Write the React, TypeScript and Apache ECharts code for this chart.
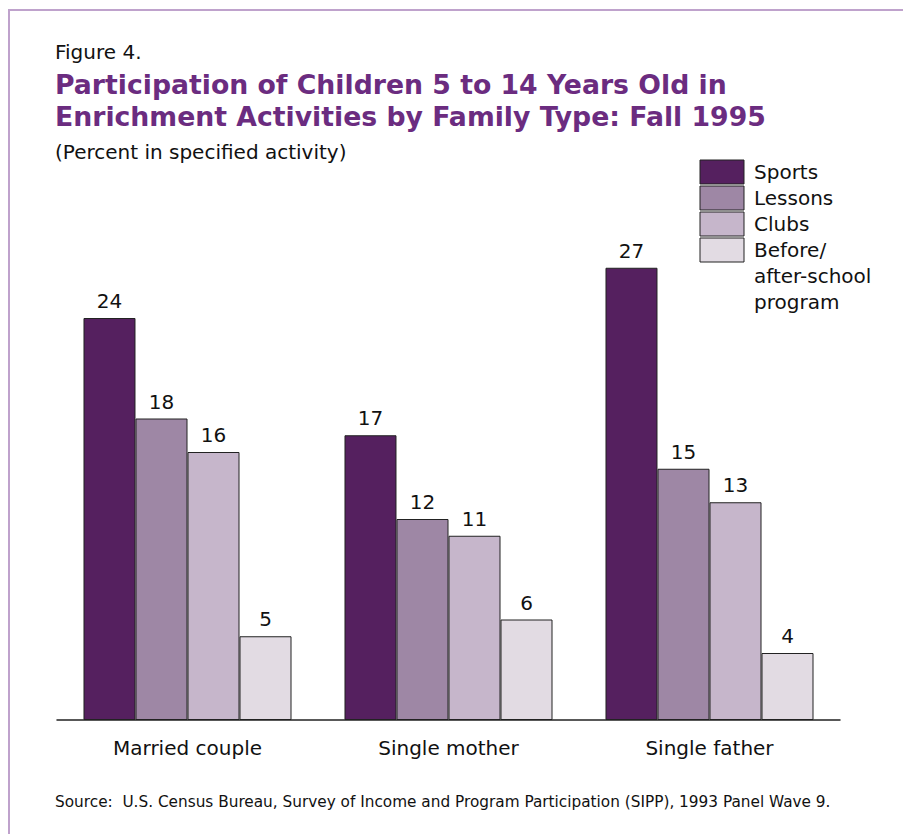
import React, { useEffect, useRef } from "react";
import * as echarts from "echarts";

const categories = ["Married couple", "Single mother", "Single father"];
const seriesNames = ["Sports", "Lessons", "Clubs", "Before/\nafter-school\nprogram"];
const sports = [24, 17, 27];
const lessons = [18, 12, 15];
const clubs = [16, 11, 13];
const beforeAfter = [5, 6, 4];
const colors = ["#55205F", "#9E87A5", "#C6B6CB", "#E2DBE3"];

const FONT = "'DejaVu Sans', sans-serif";
const TFONT = "'DejaVu Sans', sans-serif";

export default function App() {
  const ref = useRef<HTMLDivElement>(null);
  useEffect(() => {
    if (!ref.current) return;
    const chart = echarts.init(ref.current, null, { renderer: "svg" });
    const values = [sports, lessons, clubs, beforeAfter];
    const legendX = 700;
    const legendY0 = 160;
    const legendItems: any[] = [];
    seriesNames.forEach((name, i) => {
      legendItems.push({
        type: "rect",
        shape: { x: legendX, y: legendY0 + i * 26, width: 44, height: 24 },
        style: { fill: colors[i], stroke: "#222", lineWidth: 1 },
      });
      legendItems.push({
        type: "text",
        x: legendX + 54,
        y: legendY0 + i * 26 - 1,
        style: {
          text: name,
          fill: "#111",
          font: `20px ${FONT}`,
          lineHeight: 26,
          textVerticalAlign: "top",
        },
      });
    });
    chart.setOption({
      animation: false,
      grid: { left: 57, right: 63, top: 217.5, bottom: 114 },
      xAxis: {
        type: "category",
        data: categories,
        axisLine: { lineStyle: { color: "#222", width: 1.5 } },
        axisTick: { show: false },
        axisLabel: { color: "#111", fontSize: 20, fontFamily: FONT, margin: 18 },
      },
      yAxis: { type: "value", min: 0, max: 30, show: false, splitLine: { show: false } },
      series: values.map((v, i) => ({
        type: "bar",
        name: seriesNames[i],
        data: v,
        barGap: "0%",
        barCategoryGap: "20.3%",
        itemStyle: { color: colors[i], borderColor: "#222", borderWidth: 1 },
        label: {
          show: true,
          position: "top",
          distance: 7,
          color: "#111",
          fontSize: 20,
          fontFamily: FONT,
        },
      })),
      graphic: [
        {
          type: "rect",
          shape: { x: 9, y: 10, width: 900, height: 840 },
          style: { fill: "none", stroke: "#BFA2CC", lineWidth: 2 },
        },
        {
          type: "text",
          x: 55,
          y: 52,
          style: { text: "Figure 4.", fill: "#111", font: `20px ${FONT}`, textVerticalAlign: "middle" },
        },
        {
          type: "text",
          x: 55,
          y: 84,
          style: {
            text: "Participation of Children 5 to 14 Years Old in",
            fill: "#6B2C80",
            font: `bold 26.7px ${TFONT}`,
            textVerticalAlign: "middle",
          },
        },
        {
          type: "text",
          x: 55,
          y: 116,
          style: {
            text: "Enrichment Activities by Family Type: Fall 1995",
            fill: "#6B2C80",
            font: `bold 26.7px ${TFONT}`,
            textVerticalAlign: "middle",
          },
        },
        {
          type: "text",
          x: 55,
          y: 152,
          style: { text: "(Percent in specified activity)", fill: "#111", font: `20px ${FONT}`, textVerticalAlign: "middle" },
        },
        {
          type: "text",
          x: 55,
          y: 802,
          style: {
            text: "Source:  U.S. Census Bureau, Survey of Income and Program Participation (SIPP), 1993 Panel Wave 9.",
            fill: "#111",
            font: `15.3px ${FONT}`,
            textVerticalAlign: "middle",
          },
        },
        ...legendItems,
      ],
    });
    return () => chart.dispose();
  }, []);
  return (
    <div
      ref={ref}
      style={{ position: "fixed", left: 0, top: 0, width: 903, height: 834, background: "#fff" }}
    />
  );
}
